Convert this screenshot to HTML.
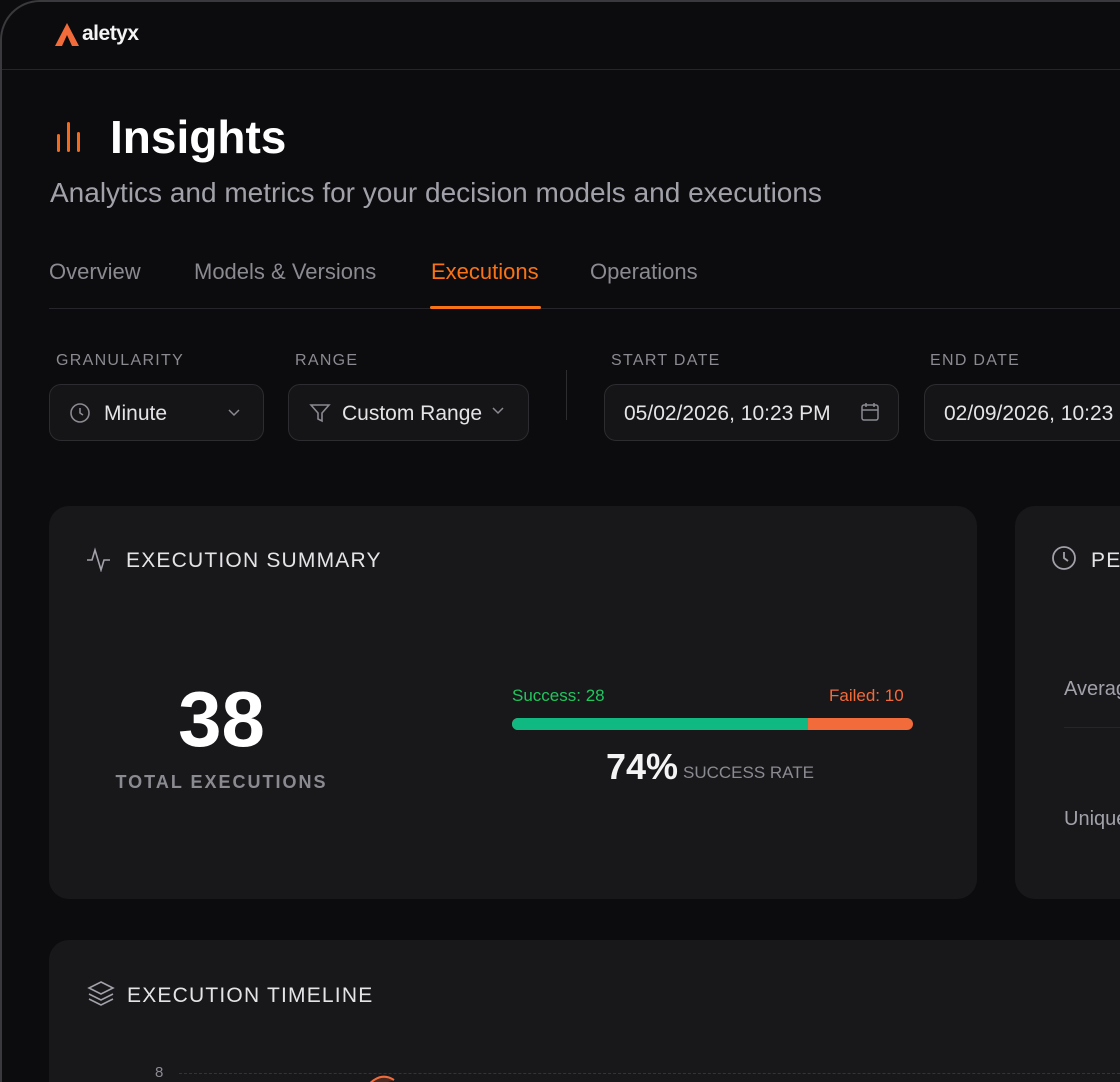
<!DOCTYPE html>
<html><head><meta charset="utf-8"><style>
*{margin:0;padding:0;box-sizing:border-box}
html,body{width:1120px;height:1082px;overflow:hidden}
body{background:#0c0c0e;font-family:"Liberation Sans",sans-serif;position:relative}
.wrap{position:absolute;left:0;top:0;width:1120px;height:1082px;overflow:hidden}
.frame{position:absolute;left:0;top:0;width:1120px;height:1082px;background:#0c0c0e;border-left:2px solid #3a3a3e;border-top:2px solid #3a3a3e;border-radius:40px 0 0 0}
.a{position:absolute}
.lbl{color:#8a8a91;font-size:16px;letter-spacing:1.3px}
.sel{position:absolute;top:384px;height:57px;border:1px solid #2c2c31;border-radius:12px;background:#151518;color:#e4e4e7;font-size:21px;overflow:hidden}
.card{position:absolute;background:#18181b;border-radius:20px;overflow:hidden}
.tab{position:absolute;top:259px;font-size:22px;color:#8a8a91;white-space:nowrap}
</style></head><body><div class="wrap">
<div class="frame"></div>
<svg class="a" style="left:55px;top:23px" width="24" height="24"><path d="M12 0 L24 23 L17 23 L12 12 L7 23 L0 23 Z" fill="#f26b3a"/></svg>
<div class="a" style="left:82px;top:22px;color:#f4f4f5;font-size:21px;font-weight:bold;letter-spacing:-0.5px">aletyx</div>
<div class="a" style="left:2px;top:69px;width:1118px;height:1px;background:#26262a"></div>
<svg class="a" style="left:56px;top:120px" width="30" height="34"><rect x="1" y="14" width="3" height="18" rx="1.5" fill="#f26b1d"/><rect x="11" y="2" width="3" height="30" rx="1.5" fill="#f26b1d"/><rect x="21" y="12" width="3" height="20" rx="1.5" fill="#f26b1d"/></svg>
<div class="a" style="left:110px;top:110px;color:#fff;font-size:46px;font-weight:bold">Insights</div>
<div class="a" style="left:50px;top:177px;color:#a1a1aa;font-size:28px;white-space:nowrap">Analytics and metrics for your decision models and executions</div>
<div class="tab" style="left:49px">Overview</div>
<div class="tab" style="left:194px">Models &amp; Versions</div>
<div class="tab" style="left:431px;color:#f97316">Executions</div>
<div class="tab" style="left:590px">Operations</div>
<div class="a" style="left:49px;top:308px;width:1071px;height:1px;background:#26262a"></div>
<div class="a" style="left:430px;top:306px;width:111px;height:3px;background:#f97316;border-radius:2px"></div>
<div class="a lbl" style="left:56px;top:352px">GRANULARITY</div>
<div class="a lbl" style="left:295px;top:352px">RANGE</div>
<div class="a lbl" style="left:611px;top:352px">START DATE</div>
<div class="a lbl" style="left:930px;top:352px">END DATE</div>
<div class="sel" style="left:49px;width:215px">
<svg class="a" style="left:19px;top:17px" width="22" height="22" fill="none" stroke="#8a8a91" stroke-width="1.6"><circle cx="11" cy="11" r="9"/><path d="M11 6v5l3 2"/></svg>
<span class="a" style="left:54px;top:17px">Minute</span>
<svg class="a" style="left:177px;top:23px" width="14" height="10" fill="none" stroke="#8a8a91" stroke-width="1.5"><path d="M2 2l5 5 5-5"/></svg></div>
<div class="sel" style="left:288px;width:241px">
<svg class="a" style="left:20px;top:17px" width="22" height="22" fill="none" stroke="#8a8a91" stroke-width="1.6"><path d="M2 3h18l-7 8v8l-4-2v-6z"/></svg>
<span class="a" style="left:53px;top:17px">Custom Range</span>
<svg class="a" style="left:202px;top:21px" width="14" height="10" fill="none" stroke="#8a8a91" stroke-width="1.5"><path d="M2 2l5 5 5-5"/></svg></div>
<div class="a" style="left:566px;top:370px;width:1px;height:50px;background:#2c2c31"></div>
<div class="sel" style="left:604px;width:295px"><span class="a" style="left:19px;top:17px">05/02/2026, 10:23 PM</span>
<svg class="a" style="left:255px;top:17px" width="20" height="20" fill="none" stroke="#8a8a91" stroke-width="1.5"><rect x="2" y="3" width="16" height="15" rx="2"/><path d="M2 8h16M6 1v4M14 1v4"/></svg></div>
<div class="sel" style="left:924px;width:196px;border-right:none;border-radius:12px 0 0 12px"><span class="a" style="left:19px;top:17px;white-space:nowrap">02/09/2026, 10:23 PM</span></div>

<div class="card" style="left:49px;top:506px;width:928px;height:393px">
<svg class="a" style="left:37px;top:40px" width="26" height="26" fill="none" stroke="#a1a1aa" stroke-width="1.6"><path d="M1 14h5l3-10 6 20 3-10h6"/></svg>
<div class="a" style="left:77px;top:43px;color:#e4e4e7;font-size:21px;letter-spacing:1.2px">EXECUTION SUMMARY</div>
<div class="a" style="left:0;width:345px;top:168px;text-align:center;color:#fff;font-size:78px;font-weight:bold">38</div>
<div class="a" style="left:0;width:345px;top:266px;text-align:center;color:#8a8a91;font-size:18px;font-weight:bold;letter-spacing:2px">TOTAL EXECUTIONS</div>
<div class="a" style="left:463px;top:180px;color:#22c55e;font-size:17px">Success: 28</div>
<div class="a" style="left:780px;top:180px;color:#f26b3a;font-size:17px">Failed: 10</div>
<div class="a" style="left:463px;top:212px;width:401px;height:12px;border-radius:6px;background:#f26b3a;overflow:hidden"><div style="width:296px;height:12px;background:#10b981"></div></div>
<div class="a" style="left:557px;top:240px;color:#f4f4f5;font-size:36px;font-weight:bold">74%</div>
<div class="a" style="left:634px;top:257px;color:#8a8a91;font-size:17px">SUCCESS RATE</div>
</div>

<div class="card" style="left:1015px;top:506px;width:105px;height:393px;border-radius:20px 0 0 20px">
<svg class="a" style="left:36px;top:39px" width="26" height="26" fill="none" stroke="#a1a1aa" stroke-width="1.8"><circle cx="13" cy="13" r="11"/><path d="M13 7v6l4 3"/></svg>
<div class="a" style="left:76px;top:43px;color:#e4e4e7;font-size:21px;letter-spacing:1.2px;white-space:nowrap">PERFORMANCE</div>
<div class="a" style="left:49px;top:172px;color:#a1a1aa;font-size:20px">Average</div>
<div class="a" style="left:49px;top:221px;width:60px;height:1px;background:#26262a"></div>
<div class="a" style="left:49px;top:302px;color:#a1a1aa;font-size:20px">Unique</div>
</div>

<div class="card" style="left:49px;top:940px;width:1071px;height:142px;border-radius:20px 0 0 0">
<svg class="a" style="left:38px;top:40px" width="28" height="28" fill="none" stroke="#a1a1aa" stroke-width="1.6"><path d="M14 2l12 6-12 6-12-6z"/><path d="M2 14l12 6 12-6"/><path d="M2 19l12 6 12-6"/></svg>
<div class="a" style="left:78px;top:44px;color:#e4e4e7;font-size:21px;letter-spacing:1.2px">EXECUTION TIMELINE</div>
<div class="a" style="left:106px;top:124px;color:#8a8a91;font-size:15px">8</div>
<div class="a" style="left:130px;top:133px;width:941px;border-top:1px dashed #33333a"></div>
<svg class="a" style="left:310px;top:130px" width="60" height="12"><path d="M5 20 Q 20 0 35 10" fill="#4a2a20" stroke="#f26b3a" stroke-width="2"/></svg>
</div>
</div></body></html>
